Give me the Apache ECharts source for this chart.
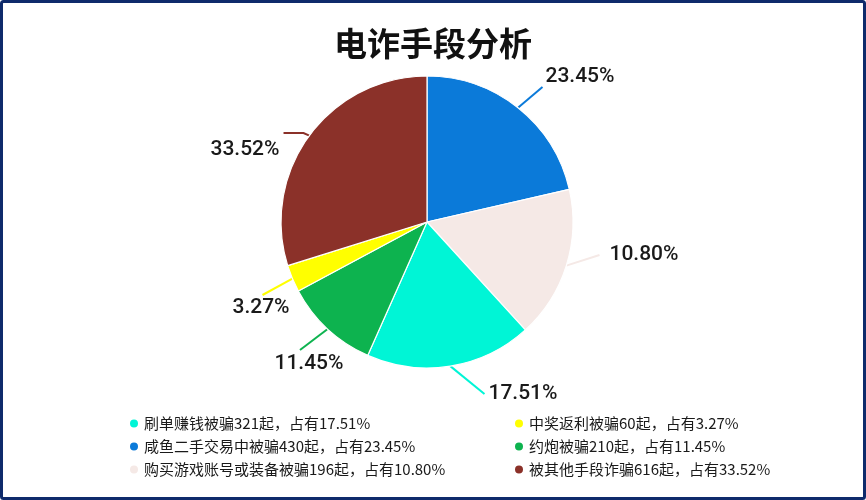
<!DOCTYPE html>
<html>
<head>
<meta charset="utf-8">
<script src="https://cdn.jsdelivr.net/npm/echarts@6/dist/echarts.min.js"></script>
<style>
html,body{margin:0;padding:0;background:#fff;}
#chart{width:866px;height:500px;}
</style>
</head>
<body>
<div id="chart"></div>
<script>
// ---- data (pie order, clockwise from 12 o'clock) ----
const categories = ['咸鱼二手交易中被骗', '购买游戏账号或装备被骗', '刷单赚钱被骗', '约炮被骗', '中奖返利被骗', '被其他手段诈骗'];
const caseCounts = [430, 196, 321, 210, 60, 616];
const percentTexts = ['23.45', '10.80', '17.51', '11.45', '3.27', '33.52'];
// share of the circle each slice occupies as drawn in the picture (%)
const sliceShares = [21.4, 16.8, 18.4, 10.5, 3.0, 29.8];
const legendLeft = ['刷单赚钱被骗', '咸鱼二手交易中被骗', '购买游戏账号或装备被骗'];
const legendRight = ['中奖返利被骗', '约炮被骗', '被其他手段诈骗'];
const titleText = '电诈手段分析';

// ---- styles / layout ----
const colors = ['#0B7AD9', '#F5E9E6', '#00F5D6', '#0DB34F', '#FFFF00', '#8B3129'];
// where each percentage text sits, and label box paddings [t, r, b, l] used to steer the leader lines
const labelCenters = [[580, 77], [644, 255], [523, 394], [309, 364], [261, 308], [245, 150]];
const labelPads = [[0, 0, 20, 3], [4, 4, 4, 10], [4, 4, 4, 4], [3, 0, 60, 18], [2, 3, 60, 0], [34, 4, 0, 0]];
const labelLen2 = [0, 0, 0, 0, 0, 20];
const labelLineH = 22;

const chart = echarts.init(document.getElementById('chart'), null, {renderer: 'canvas'});

const pieData = categories.map((c, i) => ({
  name: c,
  value: sliceShares[i],
  itemStyle: {color: colors[i]},
  label: {padding: labelPads[i]},
  labelLine: {length2: labelLen2[i]}
}));

function legendFmt(name) {
  const i = categories.indexOf(name);
  return name + caseCounts[i] + '起，占有' + percentTexts[i] + '%';
}

const legendCommon = {
  orient: 'vertical',
  icon: 'circle',
  itemWidth: 10,
  itemHeight: 10,
  itemGap: 8,
  padding: 0,
  selectedMode: false,
  formatter: legendFmt,
  textStyle: {fontSize: 15, color: '#1a1a1a', fontFamily: '"Noto Sans CJK SC", sans-serif'}
};

chart.setOption({
  backgroundColor: '#fff',
  animation: false,
  title: {
    text: titleText,
    left: 'center',
    top: 22,
    textStyle: {fontSize: 33, fontWeight: 'bold', color: '#111', fontFamily: '"Noto Sans CJK SC", sans-serif'}
  },
  graphic: [{
    type: 'rect',
    shape: {x: 1.5, y: 1.5, width: 863, height: 497, r: 2},
    style: {fill: null, stroke: '#0E2A6B', lineWidth: 3},
    silent: true,
    z: 100
  }],
  legend: [
    Object.assign({}, legendCommon, {left: 128, top: 416, data: legendLeft}),
    Object.assign({}, legendCommon, {left: 513, top: 416, data: legendRight})
  ],
  series: [{
    type: 'pie',
    center: [427, 222],
    radius: 146,
    startAngle: 90,
    clockwise: true,
    avoidLabelOverlap: false,
    itemStyle: {borderColor: '#fff', borderWidth: 1.2},
    label: {
      show: true,
      formatter: p => percentTexts[p.dataIndex] + '%',
      fontSize: 21,
      fontWeight: 500,
      lineHeight: labelLineH,
      color: '#1a1a1a',
      backgroundColor: 'rgba(0,0,0,0)',
      fontFamily: 'Roboto, "Liberation Sans", Arial, sans-serif'
    },
    labelLine: {show: true, length: 10, length2: 0, lineStyle: {width: 2}},
    labelLayout: function (params) {
      const i = params.dataIndex;
      const c = labelCenters[i], p = labelPads[i];
      return {
        x: c[0] + (p[1] - p[3]) / 2,
        y: c[1] - p[0] - labelLineH / 2,
        align: 'center',
        verticalAlign: 'top'
      };
    },
    emphasis: {disabled: true},
    data: pieData
  }]
});
</script>
</body>
</html>
